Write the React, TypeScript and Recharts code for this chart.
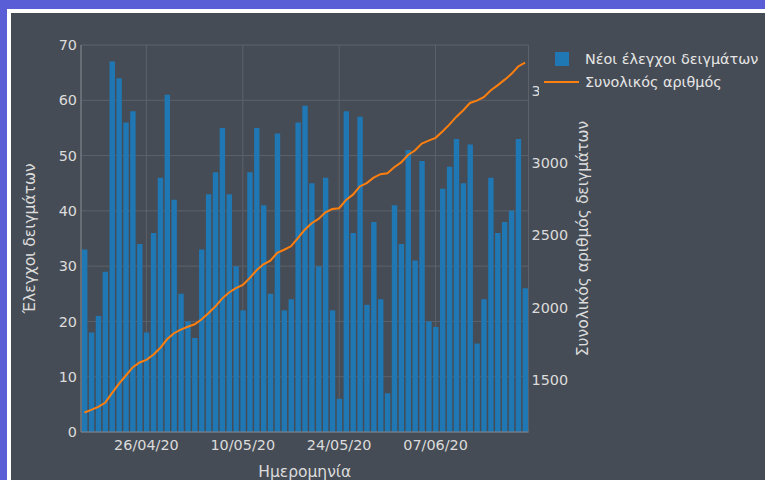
import { Bar, CartesianGrid, ComposedChart, Line, XAxis, YAxis } from 'recharts'

const dates = [
  '17/04/20', '18/04/20', '19/04/20', '20/04/20', '21/04/20', '22/04/20', '23/04/20',
  '24/04/20', '25/04/20', '26/04/20', '27/04/20', '28/04/20', '29/04/20', '30/04/20',
  '01/05/20', '02/05/20', '03/05/20', '04/05/20', '05/05/20', '06/05/20', '07/05/20',
  '08/05/20', '09/05/20', '10/05/20', '11/05/20', '12/05/20', '13/05/20', '14/05/20',
  '15/05/20', '16/05/20', '17/05/20', '18/05/20', '19/05/20', '20/05/20', '21/05/20',
  '22/05/20', '23/05/20', '24/05/20', '25/05/20', '26/05/20', '27/05/20', '28/05/20',
  '29/05/20', '30/05/20', '31/05/20', '01/06/20', '02/06/20', '03/06/20', '04/06/20',
  '05/06/20', '06/06/20', '07/06/20', '08/06/20', '09/06/20', '10/06/20', '11/06/20',
  '12/06/20', '13/06/20', '14/06/20', '15/06/20', '16/06/20', '17/06/20', '18/06/20',
  '19/06/20', '20/06/20',
]

const newTests = [
  33, 18, 21, 29, 67, 64, 56, 58, 34, 18, 36, 46, 61, 42, 25, 20, 17, 33, 43, 47, 55, 43,
  30, 22, 47, 55, 41, 25, 54, 22, 24, 56, 59, 45, 30, 46, 22, 6, 58, 36, 57, 23, 38, 24, 7,
  41, 34, 51, 31, 49, 20, 19, 44, 48, 53, 45, 52, 16, 24, 46, 36, 38, 40, 53, 26,
]

const totalTests = [
  1271, 1289, 1310, 1339, 1406, 1470, 1526, 1584, 1618, 1636, 1672, 1718, 1779, 1821,
  1846, 1866, 1883, 1916, 1959, 2006, 2061, 2104, 2134, 2156, 2203, 2258, 2299, 2324,
  2378, 2400, 2424, 2480, 2539, 2584, 2614, 2660, 2682, 2688, 2746, 2782, 2839, 2862,
  2900, 2924, 2931, 2972, 3006, 3057, 3088, 3137, 3157, 3176, 3220, 3268, 3321, 3366,
  3418, 3434, 3458, 3504, 3540, 3578, 3618, 3671, 3697,
]

const dateTicks = ['26/04/20', '10/05/20', '24/05/20', '07/06/20']
const countTicks = [0, 10, 20, 30, 40, 50, 60, 70]
const totalTicks = [1500, 2000, 2500, 3000, 3500]

const data = dates.map((date, i) => ({
  date,
  newTests: newTests[i],
  total: totalTests[i],
}))

const FONT = '"DejaVu Sans", Verdana, sans-serif'
const PANEL = '#464c55'
const TEXT = '#dcdcdc'
const BLUE = '#1f77b4'
const ORANGE = '#ff7f0e'

const tickStyle = { fill: TEXT, fontSize: 14.4, fontFamily: FONT }

export default function App() {
  return (
    <div
      style={{
        position: 'fixed',
        left: 0,
        top: 0,
        width: 765,
        height: 480,
        overflow: 'hidden',
        background: '#5a5ed6',
        fontFamily: FONT,
      }}
    >
      <div style={{ position: 'absolute', left: 7, top: 9, right: 0, bottom: 0, background: '#ffffff' }} />
      <div style={{ position: 'absolute', left: 11, top: 13, right: 0, bottom: 0, background: PANEL }} />

      <div style={{ position: 'absolute', left: 0, top: 0 }}>
        <ComposedChart
          width={765}
          height={480}
          data={data}
          margin={{ top: 45, right: 0, bottom: 0, left: 0 }}
        >
          <CartesianGrid yAxisId="left" stroke="#5c626b" strokeWidth={1} />
          <XAxis
            dataKey="date"
            ticks={dateTicks}
            height={48}
            tickSize={0}
            tickMargin={8}
            tick={tickStyle}
            axisLine={{ stroke: '#80868e' }}
            label={{
              value: 'Ημερομηνία',
              position: 'insideBottom',
              offset: 3,
              fill: TEXT,
              fontSize: 15.5,
              fontFamily: FONT,
            }}
          />
          <YAxis
            yAxisId="left"
            domain={[0, 70]}
            ticks={countTicks}
            width={81}
            tickSize={0}
            tickMargin={4}
            tick={tickStyle}
            axisLine={{ stroke: '#80868e' }}
            label={{
              value: 'Έλεγχοι δειγμάτων',
              angle: -90,
              position: 'center',
              dx: -11,
              fill: TEXT,
              fontSize: 15.5,
              fontFamily: FONT,
            }}
          />
          <YAxis
            yAxisId="right"
            orientation="right"
            domain={[1136, 3820]}
            ticks={totalTicks}
            width={236.5}
            tickSize={0}
            tickMargin={3}
            tick={tickStyle}
            axisLine={false}
            label={{
              value: 'Συνολικός αριθμός δειγμάτων',
              angle: -90,
              position: 'center',
              dx: -64,
              fill: TEXT,
              fontSize: 15.5,
              fontFamily: FONT,
            }}
          />
          <Bar
            yAxisId="left"
            dataKey="newTests"
            fill={BLUE}
            barSize={5.4}
            isAnimationActive={false}
          />
          <Line
            yAxisId="right"
            dataKey="total"
            type="linear"
            stroke={ORANGE}
            strokeWidth={2}
            dot={false}
            isAnimationActive={false}
          />
        </ComposedChart>
      </div>

      <div
        style={{
          position: 'absolute',
          left: 539,
          top: 44,
          width: 226,
          height: 52,
          background: PANEL,
          color: '#e6e6e6',
          fontSize: 14.4,
          fontFamily: FONT,
        }}
      >
        <div style={{ position: 'absolute', left: 16, top: 8, width: 14, height: 14, background: BLUE }} />
        <div style={{ position: 'absolute', left: 46, top: 6, whiteSpace: 'nowrap', lineHeight: '18px' }}>
          Νέοι έλεγχοι δειγμάτων
        </div>
        <div style={{ position: 'absolute', left: 5, top: 37, width: 35, height: 2, background: ORANGE }} />
        <div style={{ position: 'absolute', left: 46, top: 29, whiteSpace: 'nowrap', lineHeight: '18px' }}>
          Συνολικός αριθμός
        </div>
      </div>
    </div>
  )
}
